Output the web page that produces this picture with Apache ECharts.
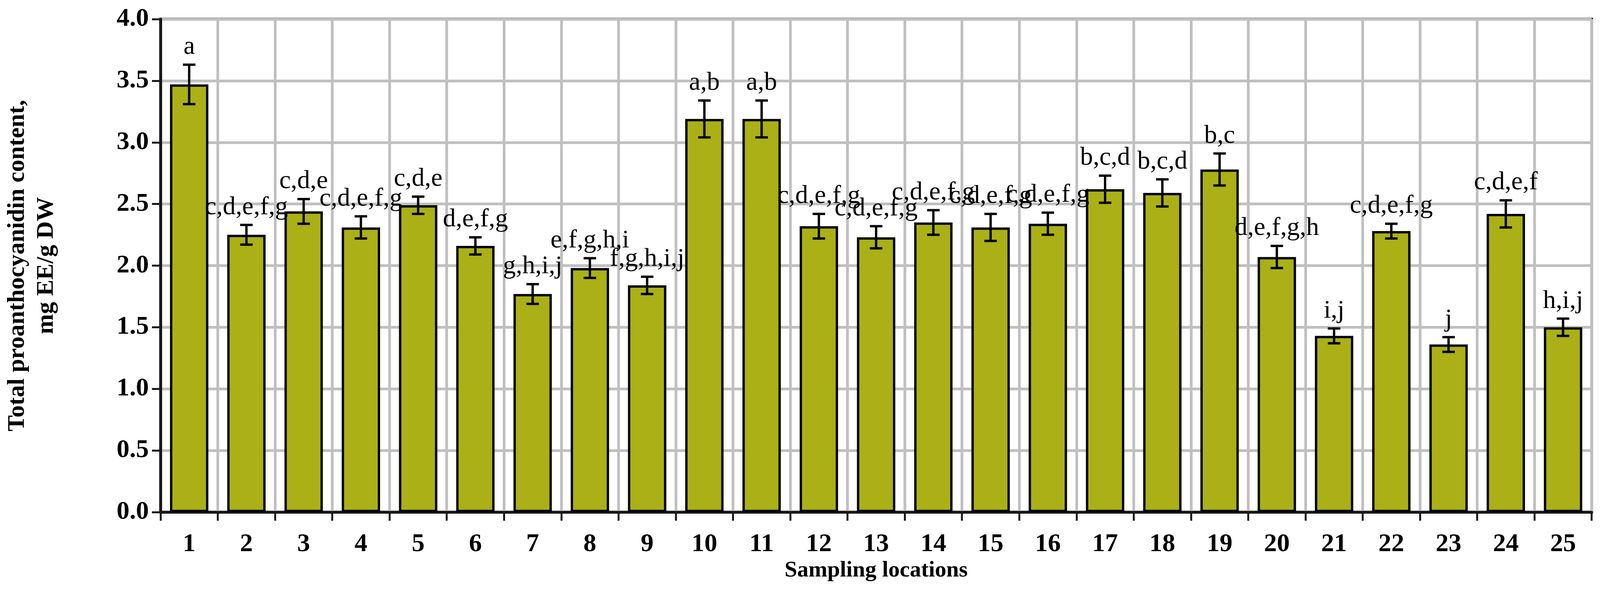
<!DOCTYPE html>
<html><head><meta charset="utf-8">
<script src="https://cdn.jsdelivr.net/npm/echarts@6/dist/echarts.min.js"></script>
<style>html,body{margin:0;padding:0;background:#fff;overflow:hidden}#c{width:100vw;height:100vh}</style>
</head><body><div id="c"></div>
<script>
const categories = ['1','2','3','4','5','6','7','8','9','10','11','12','13','14','15','16','17','18','19','20','21','22','23','24','25'];
const values = [3.47,2.25,2.44,2.31,2.49,2.16,1.77,1.98,1.84,3.19,3.19,2.32,2.23,2.35,2.31,2.34,2.62,2.59,2.78,2.07,1.43,2.28,1.36,2.42,1.50];
const errors = [0.16,0.08,0.10,0.09,0.07,0.07,0.08,0.08,0.07,0.15,0.15,0.10,0.09,0.10,0.11,0.09,0.11,0.11,0.13,0.09,0.06,0.06,0.06,0.11,0.07];
const letters = ['a','c,d,e,f,g','c,d,e','c,d,e,f,g','c,d,e','d,e,f,g','g,h,i,j','e,f,g,h,i','f,g,h,i,j','a,b','a,b','c,d,e,f,g','c,d,e,f,g','c,d,e,f,g','c,d,e,f,g','c,d,e,f,g','b,c,d','b,c,d','b,c','d,e,f,g,h','i,j','c,d,e,f,g','j','c,d,e,f','h,i,j'];
const yTicks = [0,0.5,1,1.5,2,2.5,3,3.5,4];

const chart = echarts.init(document.getElementById('c'));
const serif = 'Liberation Serif';
chart.setOption({
  animation:false,
  grid:{left:'9.15%',right:'0.52%',top:'3.16%',bottom:'15.35%',show:true,borderColor:'#181818',borderWidth:7},
  xAxis:[{
    type:'category',data:categories,
    axisLine:{lineStyle:{color:'#181818',width:7}},
    axisTick:{show:true,inside:false,length:22,lineStyle:{color:'#181818',width:5}},
    splitLine:{show:true,lineStyle:{color:'#c0c0c0',width:7}},
    axisLabel:{fontFamily:serif,fontWeight:'bold',fontSize:66,color:'#000',margin:50},
    name:'Sampling locations',nameLocation:'middle',nameGap:110,
    nameTextStyle:{fontFamily:serif,fontWeight:'bold',fontSize:58,color:'#000'}
  }],
  yAxis:[{
    type:'value',min:0,max:4,interval:0.5,
    axisLine:{show:true,lineStyle:{color:'#181818',width:7}},
    axisTick:{show:true,inside:false,length:22,lineStyle:{color:'#181818',width:5}},
    splitLine:{show:true,lineStyle:{color:'#c0c0c0',width:7}},
    axisLabel:{fontFamily:serif,fontWeight:'bold',fontSize:66,color:'#000',margin:30,
      formatter:v=>yTicks.includes(v)?v.toFixed(1):''},
    name:'Total proanthocyanidin content,\nmg EE/g DW',nameLocation:'middle',nameGap:255,
    nameTextStyle:{fontFamily:serif,fontWeight:'bold',fontSize:62,color:'#000',lineHeight:74}
  }],
  series:[
    {type:'bar',data:values,barWidth:'67%',
     itemStyle:{color:'#aab016',borderColor:'#000',borderWidth:6},z:2},
    {type:'custom',z:5,
     data:values.map((v,i)=>[i,v,errors[i]]),
     renderItem:(params,api)=>{
       const i=api.value(0),v=api.value(1),e=api.value(2);
       const top=api.coord([i,v+e]),bot=api.coord([i,v-e]);
       const x=top[0],hw=16;
       const st={stroke:'#000',lineWidth:6};
       return {type:'group',children:[
         {type:'line',shape:{x1:x,y1:top[1],x2:x,y2:bot[1]},style:st},
         {type:'line',shape:{x1:x-hw,y1:top[1],x2:x+hw,y2:top[1]},style:st},
         {type:'line',shape:{x1:x-hw,y1:bot[1],x2:x+hw,y2:bot[1]},style:st},
         {type:'text',style:{text:letters[i],x:x,y:top[1]-12,textAlign:'center',textVerticalAlign:'bottom',
           font:'66px "Liberation Serif"',fill:'#000'}}
       ]};
     }}
  ]
});
</script></body></html>
